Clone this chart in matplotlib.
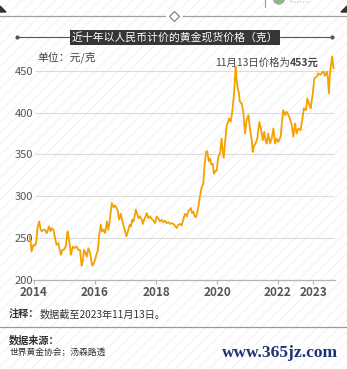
import matplotlib
matplotlib.use("Agg")
import matplotlib.pyplot as plt
from matplotlib.patches import Rectangle, Polygon, Circle
from matplotlib.lines import Line2D

plt.rcParams['font.family'] = ['Noto Sans CJK SC', 'DejaVu Sans']
plt.rcParams['hatch.linewidth'] = 0.6

# 数据（按图读取，年份为小数年）
years = [2013.85, 2013.89, 2013.92, 2013.98, 2014.03, 2014.07, 2014.12, 2014.17, 2014.21, 2014.25,
         2014.31, 2014.36, 2014.42, 2014.49, 2014.54, 2014.58, 2014.64, 2014.69, 2014.74, 2014.80,
         2014.83, 2014.88, 2014.93, 2014.98, 2015.04, 2015.10, 2015.13, 2015.18, 2015.21, 2015.27,
         2015.32, 2015.40, 2015.45, 2015.51, 2015.56, 2015.60, 2015.64, 2015.67, 2015.73, 2015.78,
         2015.84, 2015.89, 2015.92, 2015.98, 2016.06, 2016.10, 2016.13, 2016.19, 2016.23, 2016.28,
         2016.33, 2016.39, 2016.44, 2016.50, 2016.55, 2016.61, 2016.66, 2016.72, 2016.75, 2016.79,
         2016.85, 2016.90, 2016.96, 2017.03, 2017.08, 2017.14, 2017.18, 2017.22, 2017.26, 2017.31,
         2017.34, 2017.39, 2017.43, 2017.48, 2017.53, 2017.57, 2017.61, 2017.65, 2017.70, 2017.75,
         2017.80, 2017.86, 2017.91, 2017.97, 2018.02, 2018.07, 2018.13, 2018.19, 2018.24, 2018.29,
         2018.35, 2018.40, 2018.46, 2018.51, 2018.57, 2018.66, 2018.68, 2018.73, 2018.79, 2018.84,
         2018.90, 2018.95, 2019.01, 2019.06, 2019.14, 2019.18, 2019.22, 2019.27, 2019.31, 2019.36,
         2019.40, 2019.44, 2019.50, 2019.55, 2019.59, 2019.64, 2019.68, 2019.73, 2019.77, 2019.81,
         2019.86, 2019.90, 2019.94, 2019.99, 2020.04, 2020.10, 2020.15, 2020.18, 2020.22, 2020.26,
         2020.32, 2020.36, 2020.39, 2020.45, 2020.50, 2020.56, 2020.61, 2020.64, 2020.68, 2020.71,
         2020.75, 2020.81, 2020.86, 2020.92, 2020.97, 2021.03, 2021.08, 2021.14, 2021.17, 2021.21,
         2021.26, 2021.32, 2021.39, 2021.44, 2021.50, 2021.55, 2021.60, 2021.63, 2021.68, 2021.74,
         2021.79, 2021.85, 2021.90, 2021.96, 2022.00, 2022.04, 2022.09, 2022.12, 2022.17, 2022.23,
         2022.28, 2022.34, 2022.39, 2022.45, 2022.50, 2022.56, 2022.61, 2022.67, 2022.74, 2022.81,
         2022.85, 2022.92, 2022.96, 2023.03, 2023.07, 2023.14, 2023.19, 2023.27, 2023.32, 2023.38,
         2023.43, 2023.49, 2023.54, 2023.60, 2023.63, 2023.67, 2023.70, 2023.75, 2023.78, 2023.82]
prices = [252, 245, 234, 242, 241, 244, 264, 270, 262, 258,
          260, 260, 256, 264, 258, 262, 260, 250, 242, 244,
          238, 230, 236, 236, 240, 258, 252, 240, 230, 240,
          238, 240, 236, 236, 217, 222, 236, 234, 228, 238,
          232, 220, 217, 222, 232, 236, 252, 266, 258, 260,
          256, 270, 260, 276, 292, 287, 289, 285, 282, 272,
          279, 270, 262, 252, 258, 266, 264, 272, 270, 278,
          284, 278, 274, 276, 272, 267, 272, 275, 280, 274,
          276, 273, 271, 268, 276, 274, 270, 272, 269, 271,
          268, 269, 267, 268, 267, 263, 262, 266, 267, 265,
          273, 279, 276, 282, 286, 280, 282, 276, 275, 282,
          290, 300, 311, 315, 336, 353, 354, 342, 345, 338,
          339, 327, 330, 331, 347, 351, 369, 356, 346, 363,
          385, 388, 393, 389, 401, 423, 455, 440, 429, 425,
          413, 411, 401, 375, 391, 397, 381, 367, 353, 360,
          363, 369, 389, 381, 367, 377, 365, 363, 375, 363,
          369, 381, 363, 369, 365, 367, 372, 385, 403, 397,
          401, 397, 393, 385, 371, 387, 375, 381, 379, 395,
          405, 403, 417, 409, 405, 423, 441, 443, 447, 445,
          447, 449, 444, 449, 443, 423, 445, 460, 467, 453]

y_ticks = [200, 250, 300, 350, 400, 450]
x_ticks = [2014, 2016, 2018, 2020, 2022, 2023.15]
x_labels = ['2014', '2016', '2018', '2020', '2022', '2023']

W, H = 347, 369
fig = plt.figure(figsize=(W / 100, H / 100), dpi=100)
fig.patch.set_facecolor('white')

# 斜线底纹
fig.patches.append(Rectangle((0, 0), 1, 1, transform=fig.transFigure, facecolor='white',
                             edgecolor='#efefef', hatch='///', linewidth=0, zorder=-10))


def px(x, y):
    return x / W, 1 - y / H


# 坐标区
x0, x1 = 2013.83, 2023.88
left = 34 + (x0 - 2014) * 30.5
right = 34 + (x1 - 2014) * 30.5
ax = fig.add_axes([left / W, (H - 280) / H, (right - left) / W, (280 - 54) / H])
ax.set_facecolor('none')
ax.set_xlim(x0, x1)
ax.set_ylim(200, 470)

ax.hlines(y_ticks[1:], 2014.03, 2023.84, color='#dcdcdc', lw=0.8, zorder=1)
ax.plot(years, prices, color='#f5a100', lw=1.3, zorder=3, solid_joinstyle='round')

for s in ['top', 'right', 'left']:
    ax.spines[s].set_visible(False)
ax.spines['bottom'].set_color('#b5b5b5')
ax.spines['bottom'].set_linewidth(0.9)
ax.spines['bottom'].set_bounds(2013.96, 2023.86)

ax.set_yticks(y_ticks)
ax.set_yticklabels([str(v) for v in y_ticks])
ax.tick_params(axis='y', length=0, pad=-3, labelsize=8, labelcolor='#555555')
ax.set_xticks(x_ticks)
ax.set_xticklabels(x_labels, fontweight='bold')
ax.tick_params(axis='x', length=3, width=0.8, color='#b5b5b5', pad=1.5,
               labelsize=8.5, labelcolor='#555555')

# 顶部装饰
fig.add_artist(Line2D([0, 165 / W], [1 - 16 / H] * 2, color='#a0a0a0', lw=0.9))
fig.add_artist(Line2D([183 / W, 1], [1 - 16 / H] * 2, color='#a0a0a0', lw=0.9))
fig.add_artist(Line2D([174 / W], [1 - 16 / H], marker='D', markersize=5, markerfacecolor='white',
                      markeredgecolor='#777777', markeredgewidth=0.8))
fig.add_artist(Polygon([px(0, 6), px(6, 12), px(0, 12)], closed=True, transform=fig.transFigure,
                       color='#333333'))
fig.add_artist(Polygon([px(347, 6), px(341, 12), px(347, 12)], closed=True, transform=fig.transFigure,
                       color='#333333'))
fig.add_artist(Line2D([265 / W] * 2, [1 - 0 / H, 1 - 7 / H], color='#999999', lw=0.8))
fig.add_artist(Circle(px(279, -2), 6 / W, transform=fig.transFigure, facecolor='#8fb58a',
                      edgecolor='#aaaaaa', lw=0.6))
fig.text(290 / W, 1 - 2 / H, 'R e u t e r s', fontsize=3, color='#bbbbbb', va='center')

# 标题
fig.add_artist(Line2D([17 / W, 73 / W], [1 - 37 / H] * 2, color='#555555', lw=0.8,
                      marker='o', markersize=2, markevery=[0]))
fig.add_artist(Line2D([277 / W, 332 / W], [1 - 37 / H] * 2, color='#555555', lw=0.8,
                      marker='o', markersize=2, markevery=[1]))
fig.text(175 / W, 1 - 37.5 / H, '近十年以人民币计价的黄金现货价格（克）', fontsize=7.8, color='white',
         ha='center', va='center',
         bbox=dict(boxstyle='square,pad=0.2', facecolor='#363636', edgecolor='none'))

fig.text(37 / W, 1 - 57 / H, '单位：元/克', fontsize=7.8, color='#444444', va='center')

bold_val = fig.text(319 / W, 1 - 63 / H, '453元', fontsize=7.5, fontweight='bold',
                    color='#444444', ha='right', va='center')
fig.add_artist(plt.Annotation('11月13日价格为', xy=(0, 0.5), xycoords=bold_val, ha='right',
                              va='center', fontsize=7.5, color='#444444'))

# 注释与来源
note_b = fig.text(9 / W, 1 - 315 / H, '注释：', fontsize=7.3, fontweight='bold', color='#333333',
                  va='center')
fig.add_artist(plt.Annotation('数据截至2023年11月13日。', xy=(1, 0.5), xycoords=note_b, ha='left',
                              va='center', fontsize=7.3, color='#333333'))
fig.add_artist(Line2D([0, 1], [1 - 327 / H] * 2, color='#9a9a9a', lw=0.9))
fig.text(9 / W, 1 - 340 / H, '数据来源：', fontsize=7.3, fontweight='bold', color='#333333',
         va='center')
fig.text(9 / W, 1 - 352 / H, '世界黄金协会；汤森路透', fontsize=6.3, color='#333333', va='center')
fig.text(338 / W, 1 - 353 / H, 'www.365jz.com', fontsize=12.5, family='Liberation Serif',
         fontweight='bold', color='#1c3272', ha='right', va='center')

fig.savefig('out.png', dpi=100)
